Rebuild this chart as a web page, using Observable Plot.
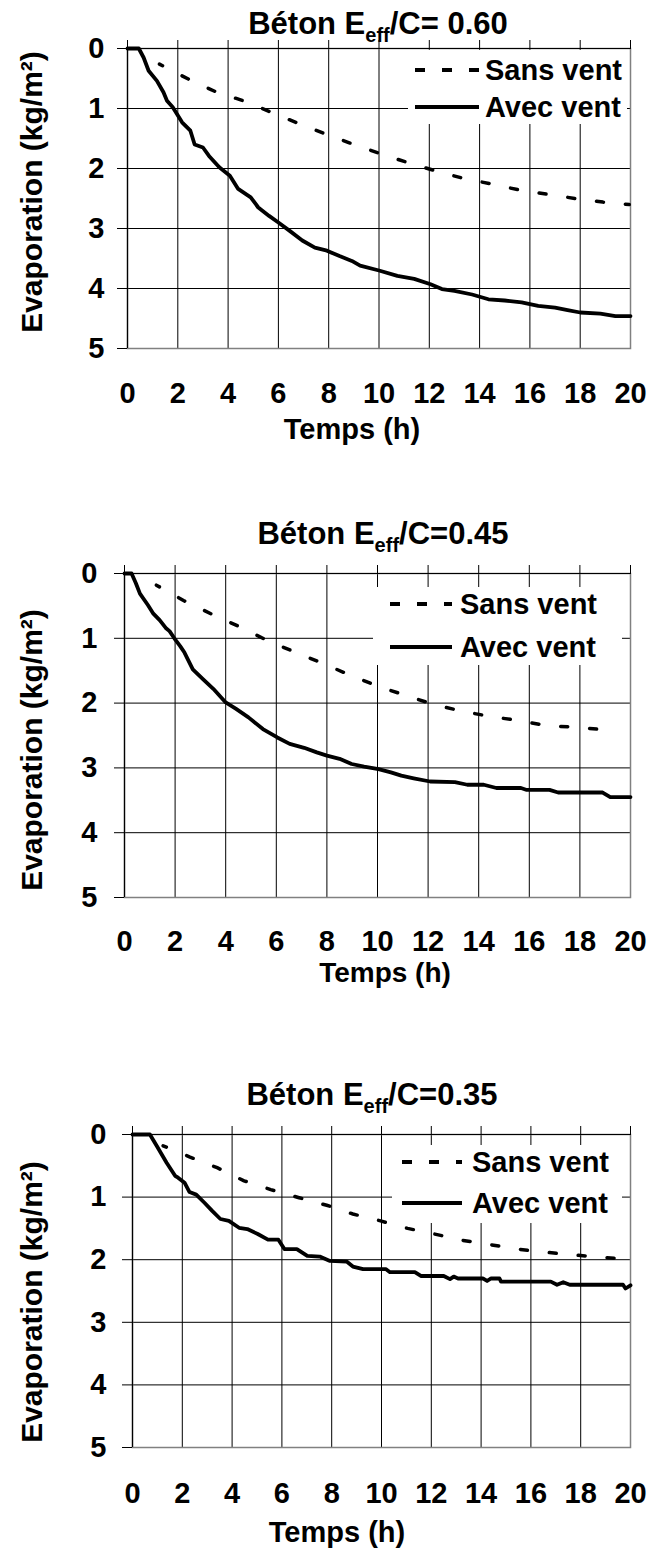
<!DOCTYPE html>
<html>
<head>
<meta charset="utf-8">
<script src="https://cdn.jsdelivr.net/npm/d3@7"></script>
<script src="https://cdn.jsdelivr.net/npm/@observablehq/plot@0.6"></script>
<style>
  html, body { margin: 0; padding: 0; background: #fff; }
  body { position: relative; width: 648px; height: 1551px; overflow: hidden;
         font-family: "Liberation Sans", Arial, Helvetica, sans-serif; font-weight: bold; color: #000; }
  .abs { position: absolute; white-space: nowrap; line-height: 1; }
  .tight { line-height: 0.7; }
  .panel-svg { position: absolute; left: 0; }
  .legend-box { position: absolute; background: #fff; }
</style>
</head>
<body>
<div id="root"></div>
<script>
// ---------- data ----------
const hourTicks = [0, 2, 4, 6, 8, 10, 12, 14, 16, 18, 20];
const evapTicks = [0, 1, 2, 3, 4, 5];
const ratioLabels = ["= 0.60", "=0.45", "=0.35"];
const seriesNames = ["Sans vent", "Avec vent"];
const xTitle = "Temps (h)";
const yTitle = "Evaporation (kg/m\u00B2)";

// [time (h), evaporation (kg/m²)]
const sans060 = [[1.27,0.26],[2.42,0.51],[3.5,0.72],[4.6,0.87],[5.7,1.06],[6.8,1.25],[7.9,1.43],[9.0,1.6],[10.1,1.76],[11.2,1.91],[12.25,2.04],[13.4,2.17],[14.5,2.26],[15.6,2.36],[16.7,2.43],[17.8,2.5],[18.9,2.56],[19.95,2.6]];
const avec060 = [[0,0],[0.45,0],[0.64,0.15],[0.84,0.37],[1.17,0.54],[1.43,0.73],[1.57,0.87],[1.8,0.98],[2.17,1.23],[2.5,1.37],[2.67,1.6],[3.0,1.65],[3.24,1.79],[3.65,1.98],[4.07,2.12],[4.4,2.34],[4.9,2.48],[5.2,2.65],[5.63,2.79],[6.0,2.9],[6.45,3.04],[6.95,3.2],[7.45,3.32],[7.93,3.37],[8.43,3.46],[8.92,3.54],[9.25,3.62],[10.0,3.7],[10.73,3.79],[11.4,3.84],[12.05,3.93],[12.5,4.01],[13.0,4.04],[13.7,4.1],[14.35,4.18],[15.0,4.2],[15.67,4.23],[16.33,4.29],[17.0,4.32],[17.5,4.36],[18.0,4.4],[18.8,4.42],[19.4,4.46],[20,4.46]];

const sans045 = [[1.26,0.18],[2.35,0.42],[3.46,0.63],[4.54,0.82],[5.68,1.04],[6.78,1.22],[7.92,1.4],[8.98,1.58],[10.09,1.75],[11.18,1.89],[12.29,2.03],[13.4,2.13],[14.5,2.21],[15.6,2.27],[16.7,2.35],[17.8,2.37],[18.9,2.41]];
const avec045 = [[0,0],[0.28,0],[0.45,0.15],[0.61,0.31],[0.93,0.49],[1.14,0.62],[1.39,0.72],[1.63,0.84],[1.78,0.89],[1.97,1.0],[2.2,1.12],[2.37,1.22],[2.7,1.48],[3.1,1.63],[3.51,1.78],[4.0,1.99],[4.41,2.09],[4.9,2.22],[5.47,2.4],[6.04,2.53],[6.53,2.63],[7.1,2.69],[7.6,2.76],[8.0,2.81],[8.5,2.86],[8.98,2.94],[9.47,2.98],[10.04,3.02],[10.53,3.07],[10.94,3.12],[11.43,3.16],[12.08,3.21],[13.06,3.22],[13.55,3.26],[14.2,3.26],[14.7,3.31],[15.67,3.31],[15.9,3.34],[16.8,3.34],[17.14,3.38],[18.9,3.38],[19.2,3.45],[20,3.45]];

const sans035 = [[1.23,0.18],[2.31,0.36],[3.4,0.53],[4.48,0.74],[5.55,0.88],[6.69,1.01],[7.8,1.13],[8.85,1.27],[9.96,1.38],[11.05,1.5],[12.13,1.59],[13.24,1.69],[14.37,1.76],[15.44,1.83],[16.56,1.88],[17.64,1.92],[18.75,1.96],[19.88,1.99]];
const avec035 = [[0,0],[0.7,0],[0.97,0.18],[1.37,0.45],[1.71,0.66],[1.83,0.69],[2.09,0.77],[2.29,0.92],[2.56,0.96],[2.89,1.09],[3.2,1.22],[3.53,1.35],[3.87,1.38],[4.28,1.49],[4.61,1.51],[5.03,1.59],[5.44,1.68],[5.86,1.68],[6.1,1.83],[6.6,1.83],[7.02,1.94],[7.52,1.95],[7.93,2.02],[8.6,2.03],[8.85,2.11],[9.26,2.15],[10.17,2.15],[10.34,2.2],[11.34,2.2],[11.58,2.26],[12.5,2.26],[12.75,2.31],[12.9,2.27],[13.07,2.3],[14.07,2.3],[14.24,2.34],[14.4,2.3],[14.74,2.3],[14.8,2.35],[16.8,2.35],[17.05,2.4],[17.3,2.36],[17.56,2.4],[19.7,2.4],[19.8,2.46],[20,2.41]];

const panelSeries = [[sans060, avec060], [sans045, avec045], [sans035, avec035]];

// ---------- layout ----------
const layout = [
  {svgTop: 0, height: 420, mTop: 48, mBottom: 72, mLeft: 127, mRight: 18, yPad: 13, xPad: 34,
   titleX: 378, titleY: 23, yTitleX: 31, yTitleY: 192, tempsX: 352, tempsY: 429, tempsFS: 29,
   legend: {x: 408, y: 50, w: 219, h: 74, r1: 70, r2: 107, sx: 415, sw: 64, tx: 485}},
  {svgTop: 550, height: 420, mTop: 23, mBottom: 73, mLeft: 124, mRight: 18, yPad: 17, xPad: 33,
   titleX: 383, titleY: 533, yTitleX: 31, yTitleY: 750, tempsX: 385, tempsY: 972.5, tempsFS: 28,
   legend: {x: 373, y: 587, w: 249, h: 78, r1: 604, r2: 647, sx: 390, sw: 62, tx: 460}},
  {svgTop: 1110, height: 410, mTop: 24, mBottom: 73, mLeft: 132, mRight: 18, yPad: 16, xPad: 35,
   titleX: 372, titleY: 1094, yTitleX: 31, yTitleY: 1302, tempsX: 337, tempsY: 1532, tempsFS: 29,
   legend: {x: 392, y: 1145, w: 230, h: 78, r1: 1162, r2: 1203, sx: 402, sw: 60, tx: 472}}
];
const FS = 29;

const root = document.getElementById("root");

function addText(html, cx, cy, size, extra, cls) {
  const d = document.createElement("div");
  d.className = "abs" + (cls ? " " + cls : "");
  d.style.left = cx + "px";
  d.style.top = cy + "px";
  d.style.fontSize = size + "px";
  d.style.transform = "translate(-50%, -50%)" + (extra || "");
  d.innerHTML = html;
  root.appendChild(d);
  return d;
}

function addLeftText(txt, x, cy, size) {
  const d = document.createElement("div");
  d.className = "abs";
  d.style.left = x + "px";
  d.style.top = (cy - size * 0.49) + "px";
  d.style.fontSize = size + "px";
  d.textContent = txt;
  root.appendChild(d);
}

function addSwatch(x, cy, w, dash) {
  const ns = "http://www.w3.org/2000/svg";
  const s = document.createElementNS(ns, "svg");
  s.setAttribute("width", w);
  s.setAttribute("height", 8);
  s.style.position = "absolute";
  s.style.left = x + "px";
  s.style.top = (cy - 4) + "px";
  const l = document.createElementNS(ns, "line");
  l.setAttribute("x1", 0); l.setAttribute("x2", w);
  l.setAttribute("y1", 4); l.setAttribute("y2", 4);
  l.setAttribute("stroke", "#000");
  l.setAttribute("stroke-width", 4);
  if (dash) l.setAttribute("stroke-dasharray", dash);
  s.appendChild(l);
  root.appendChild(s);
}

layout.forEach((L, i) => {
  const [sansRaw, avecRaw] = panelSeries[i];
  const sans = sansRaw.map(([t, e]) => ({t, e}));
  const avec = avecRaw.map(([t, e]) => ({t, e}));

  const chart = Plot.plot({
    width: 648,
    height: L.height,
    marginTop: L.mTop,
    marginBottom: L.mBottom,
    marginLeft: L.mLeft,
    marginRight: L.mRight,
    style: {
      fontFamily: "'Liberation Sans', Arial, Helvetica, sans-serif",
      fontSize: FS + "px",
      fontWeight: "bold",
      color: "#000",
      background: "transparent",
      overflow: "visible"
    },
    x: {domain: [0, 20]},
    y: {domain: [0, 5], reverse: true},
    marks: [
      Plot.gridX(hourTicks.slice(1, -1), {stroke: "#000", strokeOpacity: 1, strokeWidth: 1}),
      Plot.gridY(evapTicks.slice(1, -1), {stroke: "#000", strokeOpacity: 1, strokeWidth: 1}),
      Plot.frame({stroke: "#808080", strokeWidth: 1.5}),
      Plot.axisX(hourTicks, {anchor: "top", tickSize: 9, tickFormat: () => "", label: null, stroke: "#000"}),
      Plot.axisX(hourTicks, {anchor: "bottom", tickSize: 0, tickPadding: L.xPad, label: null, fill: "#000",
                             tickFormat: d3.format("d")}),
      Plot.axisY(evapTicks, {anchor: "left", tickSize: 10, tickPadding: L.yPad, label: null,
                             stroke: "#000", fill: "#000", tickFormat: d3.format("d")}),
      Plot.ruleY([0], {stroke: "#000", strokeWidth: 1.2}),
      Plot.ruleX([0], {stroke: "#000", strokeWidth: 1.2}),
      Plot.line(sans, {x: "t", y: "e", stroke: "#000", strokeWidth: 3.5,
                       strokeDasharray: "7,22", strokeDashoffset: 3.5}),
      Plot.line(avec, {x: "t", y: "e", stroke: "#000", strokeWidth: 3.8, strokeLinejoin: "round"})
    ]
  });
  chart.classList.add("panel-svg");
  chart.style.position = "absolute";
  chart.style.left = "0px";
  chart.style.top = L.svgTop + "px";
  root.appendChild(chart);

  // legend (white box hiding the grid)
  const lg = L.legend;
  const box = document.createElement("div");
  box.className = "legend-box";
  box.style.left = lg.x + "px";
  box.style.top = lg.y + "px";
  box.style.width = lg.w + "px";
  box.style.height = lg.h + "px";
  root.appendChild(box);
  addSwatch(lg.sx, lg.r1, lg.sw, "10,17");
  addSwatch(lg.sx, lg.r2, lg.sw, null);
  addLeftText(seriesNames[0], lg.tx, lg.r1, FS);
  addLeftText(seriesNames[1], lg.tx, lg.r2, FS);

  // title
  addText('Béton E<span style="font-size:20px;position:relative;top:8px">eff</span>/C' + ratioLabels[i],
          L.titleX, L.titleY, 31);
  // axis titles
  addText(xTitle, L.tempsX, L.tempsY, L.tempsFS, "", "tight");
  addText(yTitle, L.yTitleX, L.yTitleY, 30, " rotate(-90deg)", "tight");
});
</script>
</body>
</html>
